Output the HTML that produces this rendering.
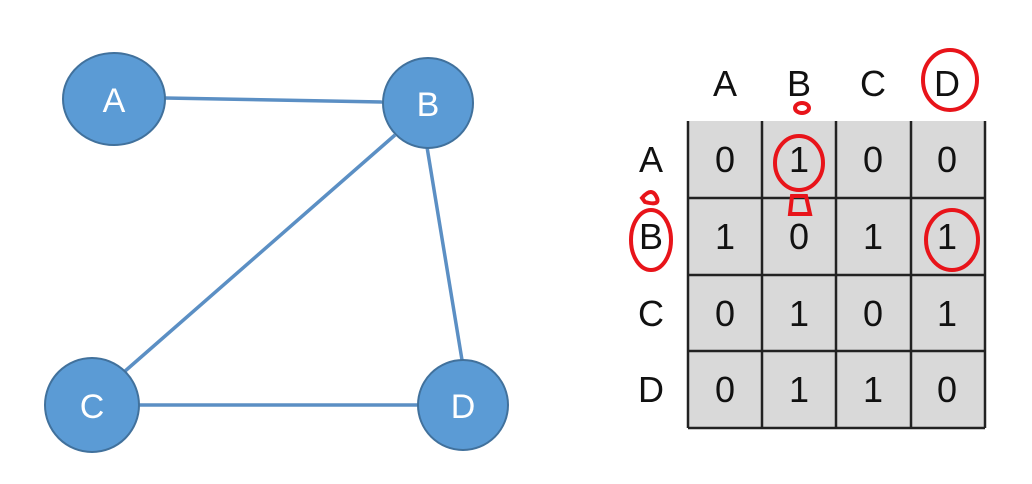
<!DOCTYPE html>
<html><head><style>body{margin:0;background:#fff}</style></head><body>
<svg width="1032" height="484" xmlns="http://www.w3.org/2000/svg" style="display:block">
<rect width="1032" height="484" fill="#fff"/>
<g stroke="#5b8fc4" stroke-width="3.5">
<line x1="165" y1="98" x2="384" y2="102"/>
<line x1="395" y1="135" x2="124" y2="372"/>
<line x1="427" y1="147" x2="462" y2="360"/>
<line x1="139" y1="405" x2="419" y2="405"/>
</g>
<g fill="#5b9bd5" stroke="#41719c" stroke-width="2">
<ellipse cx="114" cy="99" rx="51" ry="46"/>
<circle cx="428" cy="103" r="45"/>
<circle cx="92" cy="405" r="47"/>
<circle cx="463" cy="405" r="45"/>
</g>
<g fill="#fff" font-family="Liberation Sans, sans-serif" font-size="34" text-anchor="middle">
<text x="114" y="112">A</text><text x="428" y="116">B</text><text x="92" y="418">C</text><text x="463" y="418">D</text>
</g>
<rect x="688" y="121" width="297" height="307" fill="#d9d9d9"/>
<g stroke="#222" stroke-width="2.5">
<line x1="688" y1="121" x2="688" y2="428"/><line x1="762" y1="121" x2="762" y2="428"/><line x1="836" y1="121" x2="836" y2="428"/><line x1="911" y1="121" x2="911" y2="428"/><line x1="985" y1="121" x2="985" y2="428"/>
<line x1="688" y1="198" x2="985" y2="198"/><line x1="688" y1="275" x2="985" y2="275"/><line x1="688" y1="351" x2="985" y2="351"/><line x1="688" y1="428" x2="985" y2="428"/>
</g>
<g fill="#111" font-family="Liberation Sans, sans-serif" font-size="36" text-anchor="middle">
<text x="725" y="96">A</text><text x="799" y="96">B</text><text x="873" y="96">C</text><text x="947" y="96">D</text>
<text x="651" y="172">A</text><text x="651" y="249">B</text><text x="651" y="326">C</text><text x="651" y="402">D</text>
<text x="725" y="172">0</text><text x="799" y="172">1</text><text x="873" y="172">0</text><text x="947" y="172">0</text>
<text x="725" y="249">1</text><text x="799" y="249">0</text><text x="873" y="249">1</text><text x="947" y="249">1</text>
<text x="725" y="326">0</text><text x="799" y="326">1</text><text x="873" y="326">0</text><text x="947" y="326">1</text>
<text x="725" y="402">0</text><text x="799" y="402">1</text><text x="873" y="402">1</text><text x="947" y="402">0</text>
</g>
<g fill="none" stroke="#e8141a" stroke-width="4">
<ellipse cx="950" cy="80" rx="27" ry="30"/>
<ellipse cx="799" cy="163" rx="24" ry="27"/>
<path d="M792 196 L806 196 L810 214 L790 214 Z"/>
<ellipse cx="802" cy="108" rx="7" ry="5"/>
<ellipse cx="952" cy="240" rx="26" ry="30"/>
<ellipse cx="651" cy="240" rx="20" ry="30"/>
<path d="M642 198 Q652 186 657 198 Q660 206 645 202 Z"/>
</g>
</svg>
</body></html>
